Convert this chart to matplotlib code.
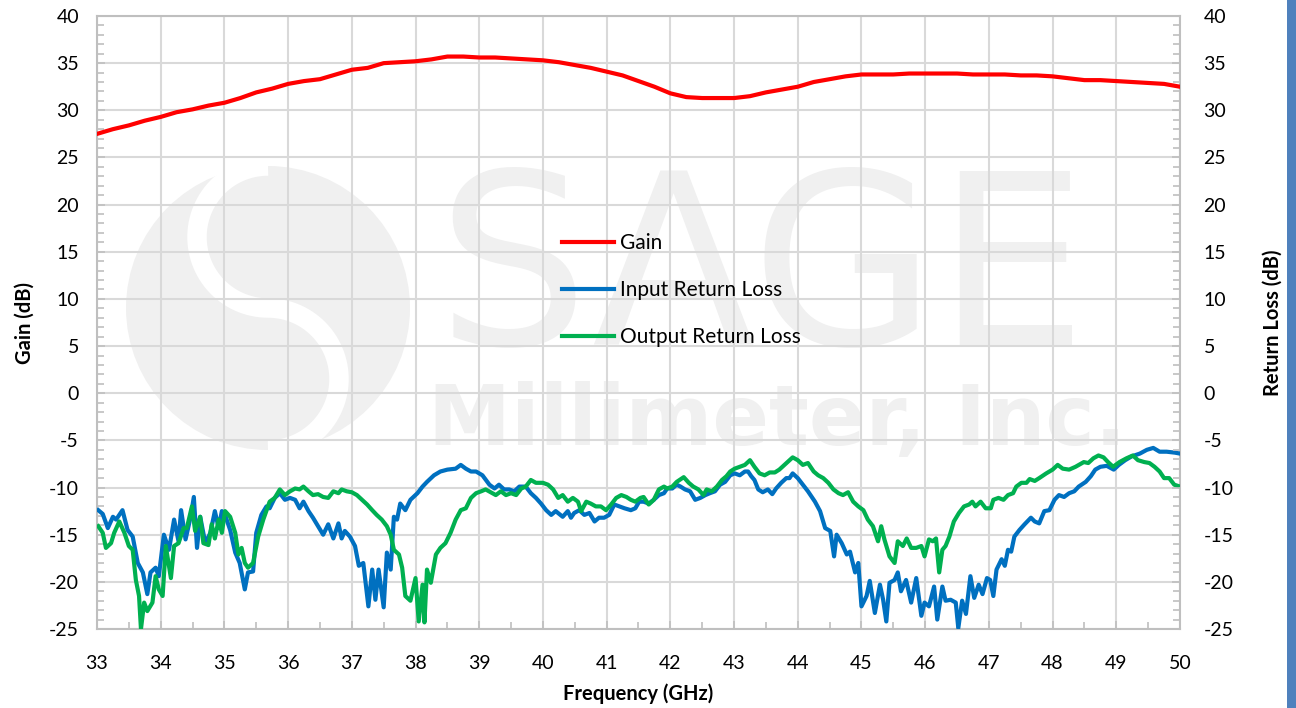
import numpy as np
import matplotlib
matplotlib.use("Agg")
import matplotlib.pyplot as plt
from matplotlib.patches import Circle, Rectangle, PathPatch
from matplotlib.path import Path
import matplotlib.transforms as mtrans
from matplotlib.ticker import MultipleLocator

# ---------------- data ----------------
gain_freq = [33.0, 33.25, 33.5, 33.75, 34.0, 34.25, 34.5, 34.75, 35.0, 35.25, 35.5, 35.75,
             36.0, 36.25, 36.5, 36.75, 37.0, 37.25, 37.5, 37.75, 38.0, 38.25, 38.5, 38.75,
             39.0, 39.25, 39.5, 39.75, 40.0, 40.25, 40.5, 40.75, 41.0, 41.25, 41.5, 41.75,
             42.0, 42.25, 42.5, 42.75, 43.0, 43.25, 43.5, 43.75, 44.0, 44.25, 44.5, 44.75,
             45.0, 45.25, 45.5, 45.75, 46.0, 46.25, 46.5, 46.75, 47.0, 47.25, 47.5, 47.75,
             48.0, 48.25, 48.5, 48.75, 49.0, 49.25, 49.5, 49.75, 50.0]
gain_db = [27.5, 28.0, 28.4, 28.9, 29.3, 29.8, 30.1, 30.5, 30.8, 31.3, 31.9, 32.3,
           32.8, 33.1, 33.3, 33.8, 34.3, 34.5, 35.0, 35.1, 35.2, 35.4, 35.7, 35.7,
           35.6, 35.6, 35.5, 35.4, 35.3, 35.1, 34.8, 34.5, 34.1, 33.7, 33.1, 32.5,
           31.8, 31.4, 31.3, 31.3, 31.3, 31.5, 31.9, 32.2, 32.5, 33.0, 33.3, 33.6,
           33.8, 33.8, 33.8, 33.9, 33.9, 33.9, 33.9, 33.8, 33.8, 33.8, 33.7, 33.7,
           33.6, 33.4, 33.2, 33.2, 33.1, 33.0, 32.9, 32.8, 32.5]

irl_freq = [33.02, 33.09, 33.17, 33.25, 33.30, 33.40, 33.48, 33.56, 33.64, 33.72, 33.79, 33.84,
            33.92, 33.97, 34.05, 34.13, 34.21, 34.28, 34.32, 34.39, 34.47, 34.52, 34.57, 34.62,
            34.70, 34.78, 34.85, 34.91, 34.96, 35.01, 35.09, 35.17, 35.24, 35.32, 35.37, 35.45,
            35.50, 35.58, 35.66, 35.71, 35.79, 35.87, 35.95, 36.03, 36.11, 36.18, 36.24, 36.32,
            36.39, 36.47, 36.55, 36.63, 36.71, 36.79, 36.84, 36.89, 36.97, 37.05, 37.11, 37.18,
            37.26, 37.32, 37.37, 37.42, 37.50, 37.55, 37.61, 37.66, 37.71, 37.76, 37.84, 37.92,
            38.03, 38.11, 38.18, 38.29, 38.39, 38.50, 38.63, 38.71, 38.79, 38.87, 38.95, 39.05,
            39.16, 39.24, 39.31, 39.39, 39.47, 39.55, 39.63, 39.73, 39.81, 39.89, 39.97, 40.05,
            40.13, 40.20, 40.31, 40.39, 40.44, 40.49, 40.57, 40.65, 40.73, 40.81, 40.88, 40.96,
            41.04, 41.12, 41.20, 41.28, 41.38, 41.45, 41.51, 41.58, 41.66, 41.74, 41.82, 41.90,
            41.95, 42.03, 42.10, 42.16, 42.23, 42.31, 42.39, 42.47, 42.55, 42.62, 42.70, 42.78,
            42.86, 42.94, 43.01, 43.09, 43.17, 43.22, 43.27, 43.32, 43.38, 43.45, 43.53, 43.60,
            43.66, 43.74, 43.82, 43.87, 43.92, 44.00, 44.08, 44.16, 44.27, 44.35, 44.43, 44.51,
            44.57, 44.61, 44.69, 44.77, 44.82, 44.90, 44.95, 45.00, 45.08, 45.13, 45.21, 45.29,
            45.34, 45.39, 45.44, 45.52, 45.57, 45.62, 45.70, 45.78, 45.86, 45.94, 45.99, 46.06,
            46.14, 46.19, 46.27, 46.32, 46.40, 46.48, 46.52, 46.58, 46.64, 46.71, 46.77, 46.84,
            46.90, 46.97, 47.02, 47.07, 47.12, 47.20, 47.25, 47.30, 47.35, 47.40, 47.48, 47.56,
            47.66, 47.72, 47.79, 47.87, 47.95, 48.03, 48.10, 48.18, 48.26, 48.34, 48.41, 48.52,
            48.60, 48.67, 48.75, 48.85, 48.96, 49.04, 49.14, 49.24, 49.37, 49.48, 49.58, 49.68,
            49.79, 49.92, 50.00]
irl_db = [-12.4, -12.8, -14.3, -13.1, -13.4, -12.4, -14.5, -15.2, -18.0, -19.0, -21.3, -19.0,
          -18.5, -19.4, -15.0, -16.6, -13.4, -15.7, -12.4, -15.5, -13.1, -11.0, -16.4, -13.1,
          -15.9, -14.8, -12.5, -14.3, -12.5, -12.9, -14.5, -16.9, -18.0, -20.8, -19.0, -18.9,
          -14.8, -12.9, -12.0, -12.2, -11.1, -10.6, -11.3, -11.1, -11.3, -12.2, -11.5, -12.5,
          -13.2, -14.1, -15.0, -13.9, -15.4, -13.8, -15.4, -14.6, -15.2, -16.2, -18.3, -18.0,
          -22.6, -18.7, -21.9, -18.7, -22.7, -16.9, -18.7, -13.1, -13.4, -11.7, -12.4, -11.3,
          -10.6, -9.9, -9.4, -8.7, -8.3, -8.1, -8.0, -7.6, -8.0, -8.3, -8.3, -8.7,
          -9.7, -10.1, -9.7, -10.2, -10.2, -10.4, -9.9, -9.9, -10.6, -11.1, -11.7, -12.4,
          -12.9, -12.5, -13.1, -12.5, -13.2, -12.7, -12.4, -12.9, -12.7, -13.6, -13.2, -13.2,
          -12.9, -11.8, -12.0, -12.2, -12.4, -12.2, -11.5, -11.5, -11.7, -11.3, -10.8, -10.6,
          -10.1, -10.1, -9.7, -9.9, -10.2, -10.4, -11.3, -11.1, -10.8, -10.6, -10.4, -9.7,
          -9.4, -8.7, -8.5, -8.7, -8.3, -8.3, -8.8, -9.2, -10.2, -10.5, -10.2, -10.7,
          -10.1, -9.5, -9.0, -9.0, -8.5, -9.0, -9.7, -10.4, -11.5, -12.5, -14.3, -14.6,
          -17.3, -15.0, -15.9, -17.1, -16.8, -19.0, -18.0, -22.6, -21.5, -19.9, -23.3, -20.3,
          -21.9, -24.2, -20.1, -19.8, -19.0, -21.0, -19.8, -22.2, -19.6, -23.6, -22.2, -22.6,
          -20.5, -24.0, -20.5, -22.0, -21.9, -22.2, -24.9, -22.0, -23.4, -19.4, -21.7, -20.3,
          -21.3, -19.6, -19.8, -21.5, -18.7, -17.6, -18.3, -16.6, -16.8, -15.2, -14.5, -13.9,
          -13.2, -13.6, -13.8, -12.5, -12.4, -11.3, -10.8, -11.0, -10.6, -10.4, -9.9, -9.4,
          -8.8, -8.1, -7.8, -7.7, -8.1, -7.6, -7.1, -6.7, -6.4, -6.0, -5.8, -6.2,
          -6.2, -6.3, -6.4]

orl_freq = [33.02, 33.09, 33.14, 33.22, 33.27, 33.35, 33.43, 33.50, 33.56, 33.61, 33.66, 33.69,
            33.74, 33.79, 33.87, 33.92, 33.97, 34.03, 34.08, 34.16, 34.21, 34.28, 34.36, 34.41,
            34.49, 34.54, 34.62, 34.67, 34.75, 34.80, 34.85, 34.91, 34.96, 35.01, 35.09, 35.17,
            35.22, 35.27, 35.32, 35.37, 35.45, 35.53, 35.61, 35.71, 35.79, 35.87, 35.95, 36.03,
            36.11, 36.18, 36.24, 36.32, 36.39, 36.47, 36.55, 36.63, 36.71, 36.79, 36.84, 36.92,
            37.00, 37.08, 37.16, 37.24, 37.32, 37.39, 37.47, 37.55, 37.61, 37.66, 37.74, 37.79,
            37.84, 37.92, 38.00, 38.05, 38.11, 38.14, 38.18, 38.24, 38.32, 38.39, 38.47, 38.55,
            38.63, 38.71, 38.79, 38.87, 38.95, 39.03, 39.10, 39.18, 39.26, 39.34, 39.42, 39.50,
            39.58, 39.66, 39.73, 39.81, 39.89, 40.00, 40.08, 40.16, 40.24, 40.31, 40.39, 40.47,
            40.55, 40.60, 40.68, 40.75, 40.83, 40.91, 40.99, 41.07, 41.15, 41.23, 41.31, 41.38,
            41.45, 41.53, 41.58, 41.66, 41.74, 41.82, 41.90, 41.95, 42.03, 42.10, 42.21, 42.29,
            42.36, 42.44, 42.52, 42.57, 42.65, 42.73, 42.81, 42.88, 42.94, 43.01, 43.09, 43.17,
            43.25, 43.32, 43.40, 43.48, 43.56, 43.64, 43.71, 43.79, 43.87, 43.92, 44.00, 44.08,
            44.16, 44.25, 44.32, 44.40, 44.48, 44.56, 44.64, 44.71, 44.79, 44.87, 44.95, 45.03,
            45.10, 45.18, 45.26, 45.31, 45.36, 45.44, 45.52, 45.57, 45.65, 45.71, 45.78, 45.86,
            45.94, 45.99, 46.06, 46.12, 46.17, 46.22, 46.27, 46.32, 46.38, 46.45, 46.53, 46.61,
            46.69, 46.74, 46.79, 46.87, 46.95, 47.03, 47.07, 47.15, 47.23, 47.30, 47.38, 47.43,
            47.51, 47.59, 47.64, 47.72, 47.79, 47.90, 48.00, 48.08, 48.16, 48.26, 48.36, 48.49,
            48.56, 48.64, 48.72, 48.80, 48.87, 48.95, 49.05, 49.16, 49.26, 49.34, 49.44, 49.52,
            49.60, 49.68, 49.75, 49.83, 49.91, 50.00]
orl_db = [-14.1, -14.8, -16.4, -15.9, -14.8, -13.6, -14.8, -16.2, -16.6, -19.8, -21.5, -25.0,
          -22.2, -23.1, -22.2, -19.4, -20.8, -21.5, -16.2, -19.6, -16.2, -15.9, -14.3, -14.3,
          -12.0, -14.6, -13.1, -15.9, -16.1, -13.9, -15.4, -13.4, -14.8, -12.5, -13.1, -14.8,
          -17.1, -16.4, -18.0, -18.5, -18.0, -15.2, -13.4, -11.5, -11.1, -10.2, -10.8, -10.4,
          -10.1, -10.2, -9.9, -10.4, -10.8, -10.7, -11.0, -11.1, -10.4, -10.6, -10.2, -10.4,
          -10.5, -10.8, -11.3, -11.8, -12.4, -12.9, -13.4, -14.1, -15.0, -16.6, -17.1, -18.5,
          -21.5, -22.0, -19.6, -24.2, -20.3, -24.3, -18.7, -20.1, -17.1, -16.4, -15.9, -14.8,
          -13.4, -12.4, -12.2, -11.1, -10.6, -10.4, -10.2, -10.5, -10.8, -10.4, -10.8, -10.6,
          -10.8, -10.1, -9.9, -9.2, -9.5, -9.5, -9.7, -10.2, -11.1, -10.8, -11.5, -11.1,
          -11.5, -12.5, -11.5, -11.7, -12.0, -12.0, -12.4, -11.8, -11.1, -10.8, -11.0, -11.3,
          -11.5, -11.1, -11.0, -11.8, -11.3, -10.2, -9.9, -10.1, -9.9, -9.4, -8.9, -9.5,
          -9.9, -10.2, -10.8, -10.2, -10.4, -9.9, -9.2, -8.8, -8.3, -8.0, -7.8, -7.6,
          -7.1, -7.8, -8.5, -8.7, -8.4, -8.4, -8.1, -7.6, -7.1, -6.8, -7.1, -7.6,
          -7.4, -8.3, -8.7, -9.0, -9.5, -10.2, -10.6, -10.8, -10.5, -11.5, -12.0, -12.4,
          -13.4, -14.1, -15.7, -14.1, -15.5, -17.3, -18.0, -15.7, -16.2, -15.4, -16.4, -16.4,
          -16.2, -17.3, -15.5, -15.7, -15.4, -19.0, -16.6, -16.2, -15.2, -13.6, -12.7, -12.0,
          -11.8, -11.5, -12.0, -11.5, -12.2, -12.2, -11.3, -11.1, -11.3, -10.8, -10.6, -9.9,
          -9.5, -9.5, -9.1, -9.3, -9.0, -8.5, -8.1, -7.6, -8.0, -8.1, -7.8, -7.3,
          -7.4, -6.9, -6.6, -6.8, -7.3, -7.8, -7.3, -6.9, -6.6, -7.1, -7.3, -7.4,
          -7.8, -8.3, -9.0, -9.0, -9.7, -9.9]

series_labels = ["Gain", "Input Return Loss", "Output Return Loss"]
x_ticks = list(range(33, 51))
y_ticks = list(range(-25, 41, 5))

# ---------------- style ----------------
FONT = ["Lato", "DejaVu Sans"]
plt.rcParams["font.family"] = FONT
plt.rcParams["axes.unicode_minus"] = False
W, H = 1296, 708
fig = plt.figure(figsize=(W / 100, H / 100), dpi=100)
fig.patch.set_facecolor("white")
ax = fig.add_axes([97 / W, 1 - 629 / H, 1083 / W, 613 / H])

GRID = "#D9D9D9"
SPINE = "#BFBFBF"

# watermark
wm = "#F0F0F0"
ax.text(0.614, 0.463, "SAGE", transform=ax.transAxes, ha="center", va="baseline",
        fontsize=172, color=wm, zorder=0.2, family=["DejaVu Sans"])
ax.text(0.628, 0.300, "Millimeter, Inc.", transform=ax.transAxes, ha="center", va="baseline",
        fontsize=60, color=wm, zorder=0.2, fontweight="bold", family=["DejaVu Sans"])
cx, cy, r = 268, H - 308, 142
logo_tr = mtrans.Affine2D().scale(r).translate(cx, cy)
circ = Circle((0, 0), 1.0, facecolor=wm, edgecolor="none", transform=logo_tr, zorder=0.2)
ax.add_artist(circ)
t1 = np.linspace(np.pi / 2, 3 * np.pi / 2, 60)
t2 = np.linspace(np.pi / 2, -np.pi / 2, 60)
sx = np.concatenate([0.5 * np.cos(t1), 0.5 * np.cos(t2)])
sy = np.concatenate([0.5 + 0.5 * np.sin(t1), -0.5 + 0.5 * np.sin(t2)])
s_path = Path(np.column_stack([sx, sy]))
ax.add_artist(PathPatch(s_path, facecolor="none", edgecolor="white", lw=14,
                        transform=logo_tr, zorder=0.25))

ax.plot(gain_freq, gain_db, color="#FF0000", lw=3, label=series_labels[0], zorder=4)
ax.plot(irl_freq, irl_db, color="#0070C0", lw=3, label=series_labels[1], zorder=4)
ax.plot(orl_freq, orl_db, color="#00B050", lw=3, label=series_labels[2], zorder=4)

ax.set_xlim(33, 50)
ax.set_ylim(-25, 40)
ax.set_xticks(x_ticks)
ax.set_yticks(y_ticks)
ax.xaxis.set_minor_locator(MultipleLocator(0.5))
ax.yaxis.set_minor_locator(MultipleLocator(1))
ax.set_axisbelow(True)
ax.grid(True, which="major", color=GRID, lw=1.5, zorder=0.5)
for s in ax.spines.values():
    s.set_color(SPINE)
    s.set_linewidth(1.5)
ax.tick_params(which="both", direction="in", color=SPINE, width=1.2, labelsize=14,
               labelcolor="black")
ax.tick_params(which="major", length=6)
ax.tick_params(axis="y", which="major", pad=13)
ax.tick_params(axis="x", which="major", pad=19)
ax.tick_params(which="minor", length=5)
ax.tick_params(axis="x", which="both", top=False)

ax2 = ax.twinx()
ax2.set_ylim(-25, 40)
ax2.set_yticks(y_ticks)
ax2.yaxis.set_minor_locator(MultipleLocator(1))
for s in ax2.spines.values():
    s.set_visible(False)
ax2.tick_params(which="both", direction="in", color=SPINE, width=1.2, labelsize=14,
                labelcolor="black")
ax2.tick_params(which="major", length=6, pad=17)
ax2.tick_params(which="minor", length=5)

ax.set_xlabel("Frequency (GHz)", fontsize=14.5, fontweight="bold")
ax.set_ylabel("Gain (dB)", fontsize=14.5, fontweight="bold")
ax2.set_ylabel("Return Loss (dB)", fontsize=14.5, fontweight="bold")
ax.xaxis.set_label_coords(0.5, -0.088)
ax.yaxis.set_label_coords(-0.058, 0.5)
ax2.yaxis.set_label_coords(1.0766, 0.5)

leg = ax.legend(loc="center left", bbox_to_anchor=(0.429, 0.553), frameon=False,
                fontsize=15, handlelength=2.5, handletextpad=0.3, labelspacing=1.3,
                borderpad=0, borderaxespad=0)

fig.patches.append(Rectangle((1287 / W, 0), 9 / W, 1, transform=fig.transFigure,
                             facecolor="#4F81BD", edgecolor="none"))

fig.savefig("out.png", dpi=100)
